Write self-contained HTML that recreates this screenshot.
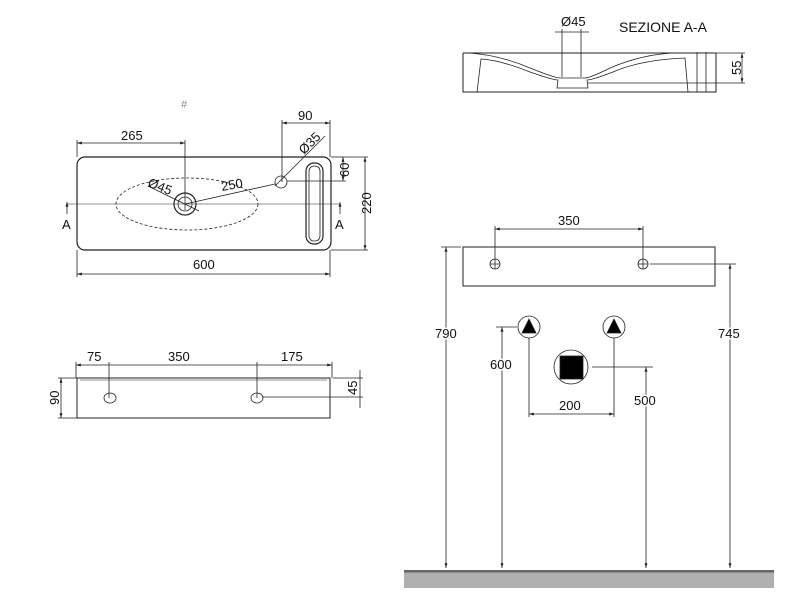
<!DOCTYPE html><html><head><style>body{margin:0;background:#fff}svg{display:block}text{font-family:"Liberation Sans",sans-serif;font-size:13px;fill:#111}</style></head><body>
<svg width="800" height="600" viewBox="0 0 800 600" stroke="#222" fill="none" stroke-width="0.8">
<defs><marker id="a" viewBox="0 0 10 10" refX="10" refY="5" markerWidth="6" markerHeight="6" orient="auto-start-reverse"><path d="M0,2L10,5L0,8z" fill="#222" stroke="none"/></marker></defs>
<!-- top view -->
<text x="181" y="108" style="font-size:11px;fill:#888" stroke="none">#</text>
<rect x="77" y="157" width="254" height="93" rx="8" stroke-width="1.2"/>
<ellipse cx="187" cy="204" rx="71" ry="26" stroke-dasharray="3,2"/>
<circle cx="185" cy="204" r="11" stroke-width="1.2"/><circle cx="185" cy="204" r="7"/>
<circle cx="281" cy="182" r="6"/>
<rect x="306" y="163" width="17" height="81" rx="8" stroke-width="1.2"/>
<rect x="309" y="166" width="11" height="75" rx="5"/>
<line x1="66" y1="204" x2="340" y2="204" stroke-width="0.5"/>
<line x1="67" y1="214" x2="67" y2="202" marker-end="url(#a)"/><line x1="340" y1="214" x2="340" y2="202" marker-end="url(#a)"/>
<text x="62" y="229" stroke="none">A</text><text x="335" y="229" stroke="none">A</text>
<line x1="77" y1="143" x2="185" y2="143" marker-start="url(#a)" marker-end="url(#a)"/><line x1="77" y1="140" x2="77" y2="157"/><line x1="185" y1="140" x2="185" y2="210"/>
<text x="121" y="140" stroke="none">265</text>
<line x1="282" y1="123" x2="330" y2="123" marker-start="url(#a)" marker-end="url(#a)"/><line x1="282" y1="120" x2="282" y2="182"/><line x1="330" y1="120" x2="330" y2="157"/>
<text x="298" y="120" stroke="none">90</text>
<line x1="275" y1="186" x2="325" y2="136"/><text x="0" y="0" stroke="none" transform="translate(304,155) rotate(-45)">Ø35</text>
<line x1="185" y1="204" x2="275" y2="184"/><text x="222" y="191" stroke="none" transform="rotate(-10 222 191)">250</text>
<line x1="148" y1="186" x2="199" y2="211"/><text x="147" y="186" stroke="none" transform="rotate(22 147 186)">Ø45</text>
<line x1="343" y1="157" x2="343" y2="181" marker-start="url(#a)" marker-end="url(#a)"/><line x1="287" y1="181" x2="346" y2="181"/><line x1="331" y1="157" x2="346" y2="157"/>
<text stroke="none" transform="translate(349,177) rotate(-90)">60</text>
<line x1="365" y1="157" x2="365" y2="250" marker-start="url(#a)" marker-end="url(#a)"/><line x1="331" y1="250" x2="368" y2="250"/><line x1="346" y1="157" x2="368" y2="157"/>
<text stroke="none" transform="translate(371,214) rotate(-90)">220</text>
<line x1="77" y1="274" x2="330" y2="274" marker-start="url(#a)" marker-end="url(#a)"/><line x1="77" y1="250" x2="77" y2="277"/><line x1="330" y1="250" x2="330" y2="277"/>
<text x="193" y="269" stroke="none">600</text>
<!-- front view -->
<rect x="77" y="378" width="253" height="40" stroke-width="1"/><line x1="80" y1="380" x2="327" y2="380" stroke-width="0.5"/>
<ellipse cx="110" cy="398" rx="6" ry="5"/><ellipse cx="257" cy="398" rx="6" ry="5"/>
<line x1="76" y1="365" x2="332" y2="365" marker-start="url(#a)" marker-end="url(#a)"/>
<line x1="76" y1="362" x2="76" y2="378"/><line x1="109" y1="362" x2="109" y2="398"/><line x1="257" y1="362" x2="257" y2="398"/><line x1="332" y1="362" x2="332" y2="378"/>
<text x="87" y="361" stroke="none">75</text><text x="168" y="361" stroke="none">350</text><text x="281" y="361" stroke="none">175</text>
<line x1="61" y1="378" x2="61" y2="418" marker-start="url(#a)" marker-end="url(#a)"/><line x1="58" y1="378" x2="77" y2="378"/><line x1="58" y1="418" x2="77" y2="418"/>
<text stroke="none" transform="translate(59,405) rotate(-90)">90</text>
<line x1="360" y1="370" x2="360" y2="408"/><line x1="333" y1="378" x2="363" y2="378"/><line x1="262" y1="397" x2="363" y2="397"/>
<text stroke="none" transform="translate(357,395) rotate(-90)">45</text>
<!-- section -->
<text x="619" y="32" stroke="none" style="font-size:14px">SEZIONE A-A</text>
<text x="561" y="26" stroke="none">Ø45</text>
<line x1="555" y1="32" x2="589" y2="32"/><line x1="562" y1="29" x2="562" y2="77"/><line x1="581" y1="29" x2="581" y2="77"/>
<path d="M463,53L716,53M463,53L463,92L716,92L716,53" stroke-width="1"/>
<path d="M469,53Q500,55 530,68Q555,78 560,78L585,78Q590,78 610,68Q640,55 672,53"/>
<path d="M477,92L481,59Q500,60 530,72Q553,80 558,80L557,88L588,88L587,80Q592,80 613,72Q640,60 685,58L688,92"/>
<line x1="697" y1="52" x2="697" y2="92"/><line x1="706" y1="52" x2="706" y2="92"/>
<line x1="742" y1="53" x2="742" y2="83" marker-start="url(#a)" marker-end="url(#a)"/><line x1="716" y1="53" x2="745" y2="53"/><line x1="588" y1="83" x2="745" y2="83"/>
<text stroke="none" transform="translate(741,75) rotate(-90)">55</text>
<!-- right front -->
<rect x="463" y="247" width="252" height="39" stroke-width="1"/>
<circle cx="495" cy="264" r="5"/><path d="M490,264h10M495,259v10"/>
<circle cx="643" cy="264" r="5"/><path d="M638,264h10M643,259v10"/>
<line x1="495" y1="229" x2="643" y2="229" marker-start="url(#a)" marker-end="url(#a)"/><line x1="495" y1="226" x2="495" y2="259"/><line x1="643" y1="226" x2="643" y2="259"/>
<text x="558" y="225" stroke="none">350</text>
<line x1="446" y1="247" x2="446" y2="568" marker-start="url(#a)" marker-end="url(#a)"/><line x1="441" y1="247" x2="461" y2="247"/>
<text x="435" y="338" stroke="none" style="paint-order:stroke;stroke:#fff;stroke-width:3">790</text>
<line x1="730" y1="264" x2="730" y2="568" marker-start="url(#a)" marker-end="url(#a)"/><line x1="650" y1="264" x2="736" y2="264"/>
<text x="718" y="338" stroke="none" style="paint-order:stroke;stroke:#fff;stroke-width:3">745</text>
<circle cx="529" cy="327" r="11"/><path d="M529,319L536,333L522,333z" fill="#000"/>
<circle cx="614" cy="327" r="11"/><path d="M614,319L621,333L607,333z" fill="#000"/>
<circle cx="571" cy="367" r="17"/><rect x="560" y="356" width="23" height="23" fill="#000"/>
<line x1="529" y1="338" x2="529" y2="417"/><line x1="614" y1="338" x2="614" y2="417"/>
<line x1="529" y1="414" x2="614" y2="414" marker-start="url(#a)" marker-end="url(#a)"/><text x="559" y="410" stroke="none">200</text>
<line x1="502" y1="327" x2="502" y2="568" marker-start="url(#a)" marker-end="url(#a)"/><line x1="496" y1="327" x2="517" y2="327"/>
<text x="490" y="369" stroke="none" style="paint-order:stroke;stroke:#fff;stroke-width:3">600</text>
<line x1="646" y1="367" x2="646" y2="568" marker-start="url(#a)" marker-end="url(#a)"/><line x1="592" y1="367" x2="653" y2="367"/>
<text x="634" y="405" stroke="none" style="paint-order:stroke;stroke:#fff;stroke-width:3">500</text>
<rect x="404" y="572" width="370" height="16" fill="#b0b0b0" stroke="none"/>
<rect x="404" y="570" width="370" height="2.5" fill="#666" stroke="none"/>
</svg></body></html>
